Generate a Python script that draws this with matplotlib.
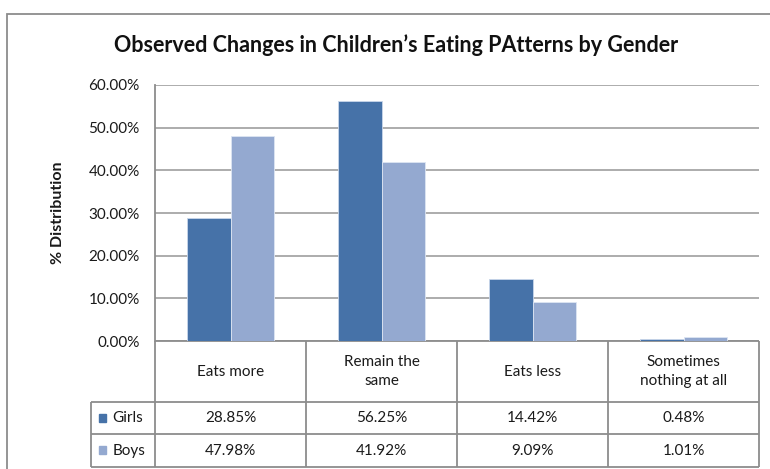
import numpy as np
import matplotlib
matplotlib.use("Agg")
import matplotlib.pyplot as plt
import matplotlib.transforms as mtransforms
from matplotlib.patches import Rectangle

plt.rcParams["font.family"] = ["Lato", "DejaVu Sans"]

categories = ["Eats more", "Remain the\nsame", "Eats less", "Sometimes\nnothing at all"]
series_names = ["Girls", "Boys"]
girls = [28.85, 56.25, 14.42, 0.48]
boys = [47.98, 41.92, 9.09, 1.01]
girls_labels = ["28.85%", "56.25%", "14.42%", "0.48%"]
boys_labels = ["47.98%", "41.92%", "9.09%", "1.01%"]
yticks = [0, 10, 20, 30, 40, 50, 60]

C_GIRLS = "#4672a8"
C_BOYS = "#94a9d0"
GRID = "#a6a6a6"
LINE = "#8c8c8c"
TXT = "#1a1a1a"
FS = 11

W, H = 770, 469
fig = plt.figure(figsize=(W / 100, H / 100), dpi=100)
fig.patch.set_facecolor("white")

# plot area in pixel terms
left, right, top, bottom = 155, 759, 85, 341
ax = fig.add_axes([left / W, 1 - bottom / H, (right - left) / W, (bottom - top) / H])

x = np.arange(len(categories))
bw = 1 / 3.5
ax.bar(x - bw / 2, girls, bw, color=C_GIRLS, edgecolor="#c9d6ea", linewidth=0.6, zorder=3)
ax.bar(x + bw / 2, boys, bw, color=C_BOYS, edgecolor="#dde5f2", linewidth=0.6, zorder=3)

ax.set_xlim(-0.5, len(categories) - 0.5)
ax.set_ylim(0, 60)
ax.set_yticks(yticks)
ax.set_yticklabels([f"{v:.2f}%" for v in yticks], fontsize=FS, color=TXT)
ax.set_xticks([])
ax.tick_params(axis="y", length=0, pad=11)
ax.yaxis.grid(True, color=GRID, linewidth=1.3, zorder=0)
for s in ["top", "right", "bottom"]:
    ax.spines[s].set_visible(False)
ax.spines["left"].set_color(LINE)
ax.spines["left"].set_linewidth(1.3)

ax.set_ylabel("% Distribution", fontsize=11.5, fontweight="bold", labelpad=17, color=TXT)

# data table below the axis
tr = mtransforms.blended_transform_factory(ax.transData, ax.transAxes)
ph = bottom - top
def ya(py):
    return -(py - bottom) / ph

x0 = -0.5 - (left - 91) / ((right - left) / len(categories))
xr = len(categories) - 0.5
y_rows = [ya(341), ya(402), ya(434), ya(467)]
lk = dict(color=LINE, linewidth=1.3, transform=tr, clip_on=False, solid_capstyle="butt")

ax.plot([-0.5, xr], [y_rows[0]] * 2, **lk)
for yy in y_rows[1:]:
    ax.plot([x0, xr], [yy] * 2, **lk)
for b in np.arange(-0.5, xr + 0.01, 1.0):
    ax.plot([b, b], [y_rows[0], y_rows[3]], **lk)
ax.plot([x0, x0], [y_rows[1], y_rows[3]], **lk)

for i, cat in enumerate(categories):
    ax.text(i, (y_rows[0] + y_rows[1]) / 2, cat, transform=tr, ha="center", va="center",
            fontsize=FS, linespacing=1.45, color=TXT)
    ax.text(i, (y_rows[1] + y_rows[2]) / 2, girls_labels[i], transform=tr, ha="center",
            va="center", fontsize=FS, color=TXT)
    ax.text(i, (y_rows[2] + y_rows[3]) / 2, boys_labels[i], transform=tr, ha="center",
            va="center", fontsize=FS, color=TXT)

for name, col, r in [(series_names[0], C_GIRLS, 1), (series_names[1], C_BOYS, 2)]:
    yc = (y_rows[r] + y_rows[r + 1]) / 2
    fig.patches.append(Rectangle((99 / W, 1 - (418 + 16 * (r - 1) * 2 + 4) / H), 7 / W, 8 / H,
                                 transform=fig.transFigure, color=col))
    ax.text(x0 + 0.14, yc, name, transform=tr, ha="left", va="center", fontsize=FS, color=TXT)

# outer chart border
fig.patches.append(Rectangle((7 / W, -0.1), 1.2, 1.1 - 14 / H, transform=fig.transFigure,
                             fill=False, edgecolor="#8c8c8c", linewidth=1.3))

fig.text(396 / W, 1 - 45 / H, "Observed Changes in Children\u2019s Eating PAtterns by Gender",
         ha="center", va="center", fontsize=15.5, fontweight="bold", color="#111111")

fig.savefig("out.png", dpi=100)
